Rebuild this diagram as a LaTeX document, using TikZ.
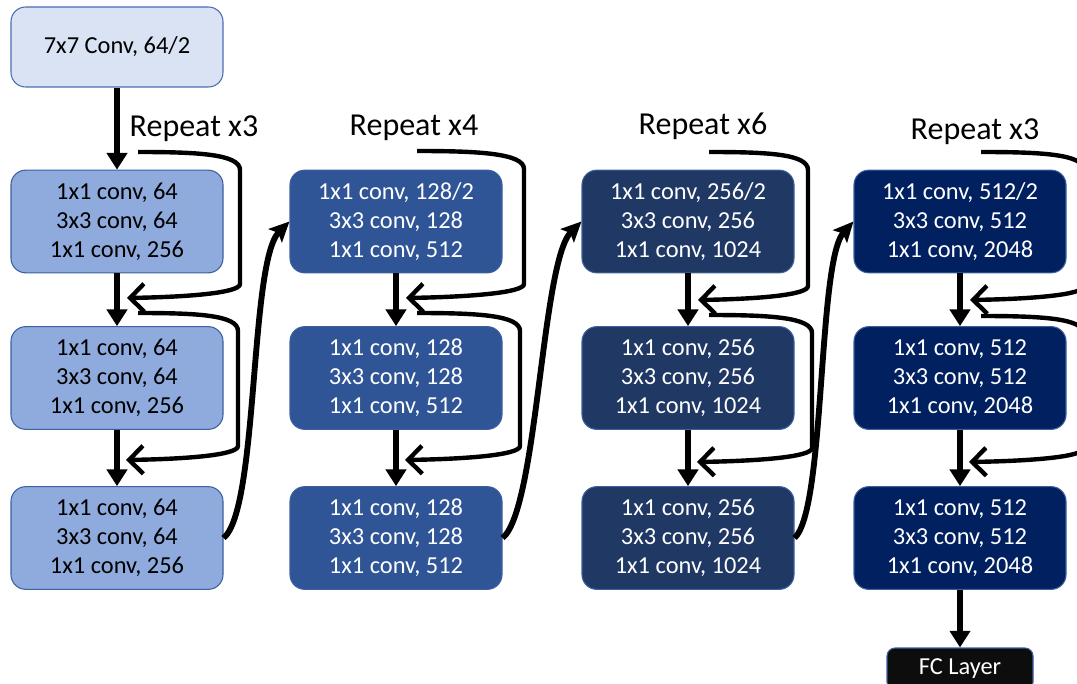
\documentclass[tikz,border=0pt]{standalone}
\usepackage{fontspec}
\setmainfont{Carlito}
\usetikzlibrary{arrows.meta}

\definecolor{stemfill}{HTML}{DAE3F3}
\definecolor{stemline}{HTML}{4A6DB0}
\definecolor{cAfill}{HTML}{8FAADC}
\definecolor{cBfill}{HTML}{2F5597}
\definecolor{cCfill}{HTML}{203864}
\definecolor{cDfill}{HTML}{002060}
\definecolor{boxline}{HTML}{3C5F9E}
\definecolor{fcfill}{HTML}{0D0D0D}

\tikzset{
  blk/.style={draw=boxline, line width=0.8pt, rounded corners=11pt,
    minimum width=159pt, minimum height=77pt, inner sep=0pt,
    align=center, font=\fontsize{18.3}{21.75}\selectfont},
  lightblk/.style={blk, fill=cAfill, text=black},
  darkblk/.style={blk, text=white},
  rep/.style={inner sep=0pt, anchor=base, font=\fontsize{24}{28}\selectfont},
  mainarrow/.style={line width=4.5pt, -{Triangle[length=12.5pt,width=15pt]}},
  skiparrow/.style={line width=3.3pt, -{Straight Barb[length=10.5pt,width=21pt,line width=3.3pt]}},
  linkarrow/.style={line width=4.4pt, -{Stealth[length=15pt,width=14pt,inset=3pt]}},
}

\begin{document}
\begin{tikzpicture}[x=0.75pt, y=-0.75pt]
\useasboundingbox (0,0) rectangle (1077,684);
\clip (0,0) rectangle (1077,684);

% stem convolution
\node[blk, fill=stemfill, draw=stemline, minimum height=60pt] (stem) at (117,47) {7x7 Conv, 64/2};

% stage 1
\node[lightblk] (a1) at (117,221.5) {1x1 conv, 64\\3x3 conv, 64\\1x1 conv, 256};
\node[lightblk] (a2) at (117,378) {1x1 conv, 64\\3x3 conv, 64\\1x1 conv, 256};
\node[lightblk] (a3) at (117,538) {1x1 conv, 64\\3x3 conv, 64\\1x1 conv, 256};

% stage 2
\node[darkblk, fill=cBfill] (b1) at (396,221.5) {1x1 conv, 128/2\\3x3 conv, 128\\1x1 conv, 512};
\node[darkblk, fill=cBfill] (b2) at (396,378) {1x1 conv, 128\\3x3 conv, 128\\1x1 conv, 512};
\node[darkblk, fill=cBfill] (b3) at (396,538) {1x1 conv, 128\\3x3 conv, 128\\1x1 conv, 512};

% stage 3
\node[darkblk, fill=cCfill] (c1) at (688,221.5) {1x1 conv, 256/2\\3x3 conv, 256\\1x1 conv, 1024};
\node[darkblk, fill=cCfill] (c2) at (688,378) {1x1 conv, 256\\3x3 conv, 256\\1x1 conv, 1024};
\node[darkblk, fill=cCfill] (c3) at (688,538) {1x1 conv, 256\\3x3 conv, 256\\1x1 conv, 1024};

% stage 4
\node[darkblk, fill=cDfill] (d1) at (960,221.5) {1x1 conv, 512/2\\3x3 conv, 512\\1x1 conv, 2048};
\node[darkblk, fill=cDfill] (d2) at (960,378) {1x1 conv, 512\\3x3 conv, 512\\1x1 conv, 2048};
\node[darkblk, fill=cDfill] (d3) at (960,538) {1x1 conv, 512\\3x3 conv, 512\\1x1 conv, 2048};

% classifier
\node[blk, fill=fcfill, draw=boxline, text=white, rounded corners=6pt,
      minimum width=109.5pt, minimum height=31.5pt] (fc) at (960,669) {FC Layer};

% repeat labels
\node[rep] (ra) at (194,137) {Repeat x3};
\node[rep] (rb) at (414,136) {Repeat x4};
\node[rep] (rc) at (703,135) {Repeat x6};
\node[rep] (rd) at (975,140) {Repeat x3};

% main flow
\draw[mainarrow] (stem.south) -- (a1.north);
\foreach \s in {a,b,c,d}{
  \draw[mainarrow] (\s1.south) -- (\s2.north);
  \draw[mainarrow] (\s2.south) -- (\s3.north);
}
\draw[mainarrow] (d3.south) -- (fc.north);

% transitions between stages
\draw[linkarrow] (a3.east) .. controls +(35,-28) and +(-40,40) .. (b1.west);
\draw[linkarrow] (b3.east) .. controls +(35,-28) and +(-40,40) .. (c1.west);
\draw[linkarrow] (c3.east) .. controls +(31,-28) and +(-36,40) .. (d1.west);

% repeat loops: start, vertical x, tip
\foreach \n/\cx/\sa/\ta/\sb/\tb/\va/\vb in {
  a/117/152/298/313/460/240/238,
  b/396/151/298/313/460/524/520,
  c/688/152/300/315/462/808/812,
  d/960/152/300/316/462/1084/1084}{
  \coordinate (\n s1) at (\cx+21,\sa);
  \coordinate (\n e1) at (\cx+10,\ta);
  \coordinate (\n s2) at (\cx+21,\sb);
  \coordinate (\n e2) at (\cx+9,\tb);
  \draw[skiparrow] (\n s1) .. controls (\cx+80,\sa) and (\va,\sa+2) .. (\va,\sa+18)
     -- (\va,\ta-14) .. controls (\va,\ta-5) and (\cx+70,\ta-1) .. (\n e1);
  \draw[skiparrow] (\n s2) .. controls (\cx+80,\sb) and (\vb,\sb+2) .. (\vb,\sb+18)
     -- (\vb,\tb-14) .. controls (\vb,\tb-5) and (\cx+70,\tb-1) .. (\n e2);
}
\end{tikzpicture}
\end{document}
